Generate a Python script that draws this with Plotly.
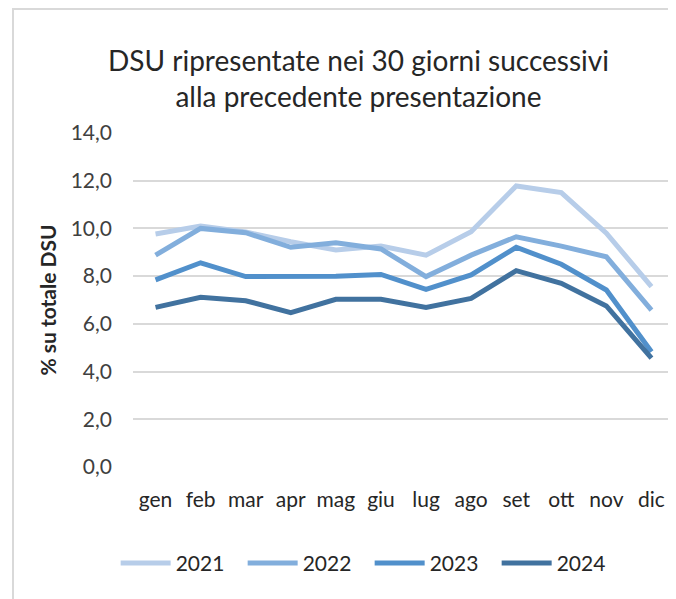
import plotly.graph_objects as go

months = ["gen", "feb", "mar", "apr", "mag", "giu", "lug", "ago", "set", "ott", "nov", "dic"]

dsu_2021 = [9.77, 10.10, 9.85, 9.44, 9.10, 9.26, 8.88, 9.86, 11.78, 11.50, 9.80, 7.56]
dsu_2022 = [8.88, 10.00, 9.82, 9.21, 9.40, 9.14, 7.98, 8.88, 9.65, 9.26, 8.81, 6.58]
dsu_2023 = [7.84, 8.56, 7.98, 7.98, 8.00, 8.07, 7.45, 8.05, 9.21, 8.50, 7.42, 4.83]
dsu_2024 = [6.69, 7.11, 6.97, 6.47, 7.03, 7.03, 6.69, 7.07, 8.23, 7.70, 6.75, 4.56]

series = [
    ("2021", dsu_2021, "#B7CDE9"),
    ("2022", dsu_2022, "#82AEDC"),
    ("2023", dsu_2023, "#5190CB"),
    ("2024", dsu_2024, "#41729F"),
]

font_main = "Lato, Roboto, sans-serif"

fig = go.Figure()
for name, vals, col in series:
    fig.add_trace(go.Scatter(
        x=months, y=vals, name=name, mode="lines",
        line=dict(color=col, width=5),
    ))

# outer chart border (only left and top edge visible)
fig.add_shape(type="rect", xref="paper", yref="paper",
              x0=-0.2218, x1=1.2, y0=-0.6, y1=1.371,
              line=dict(color="#D9D9D9", width=2), layer="below")

fig.update_layout(
    width=676, height=599,
    margin=dict(l=125, r=10, t=125, b=140),
    paper_bgcolor="white", plot_bgcolor="white",
    separators=",.",
    font=dict(family=font_main, color="#404040", size=21),
    title=dict(
        text="DSU ripresentate nei 30 giorni successivi<br>alla precedente presentazione",
        xref="container", x=0.5185, xanchor="center",
        yref="container", y=0.895, yanchor="middle",
        font=dict(size=28, color="#262626", family=font_main),
    ),
    showlegend=True,
    legend=dict(
        orientation="h", xref="container", x=0.535, xanchor="center",
        yref="container", y=0.073, yanchor="middle",
        font=dict(size=21, color="#262626"),
        entrywidth=62, itemwidth=50,
    ),
    xaxis=dict(
        range=[-0.5, 11.5],
        showgrid=False, showline=False, zeroline=False,
        tickfont=dict(size=21, color="#262626"),
        ticklabelstandoff=18,
    ),
    yaxis=dict(
        range=[0, 14], dtick=2, tickformat=".1f",
        showgrid=True, gridcolor="#D9D9D9", gridwidth=1.5,
        zeroline=False, showline=False,
        tickfont=dict(size=21, color="#404040"),
        ticklabelstandoff=20,
        title=dict(text="<b>% su totale DSU</b>", font=dict(size=21, color="#262626"), standoff=8),
    ),
)

fig.write_html("out.html")
